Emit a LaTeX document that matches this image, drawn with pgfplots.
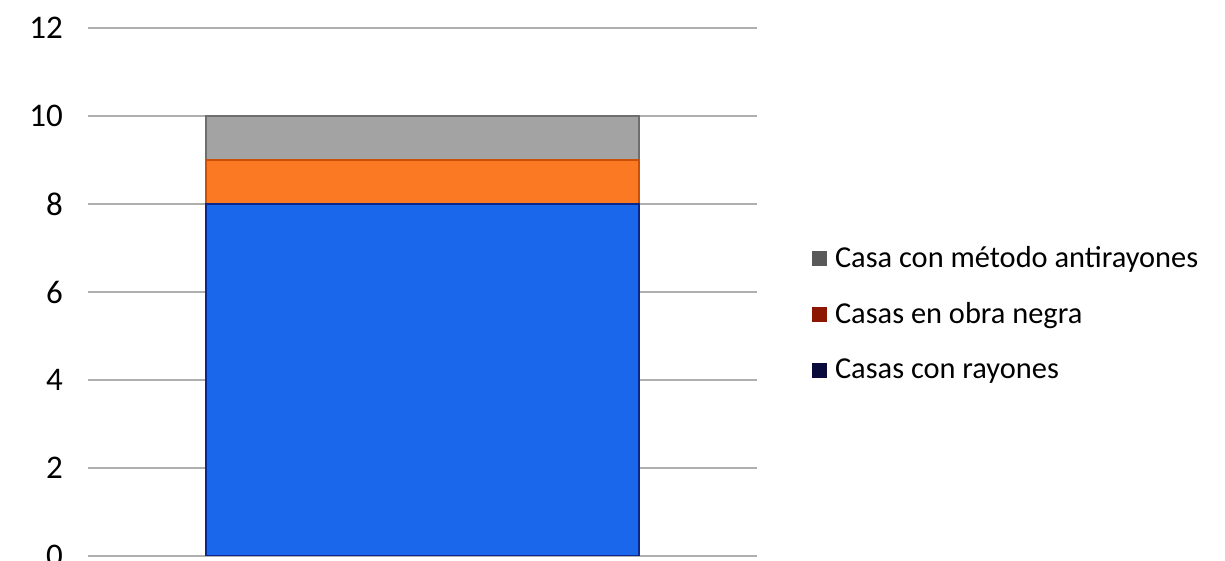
\documentclass[border=0pt]{standalone}
\usepackage{pgfplots}
\pgfplotsset{compat=1.18}
\usepackage{fontspec}
\setmainfont{Carlito}
\definecolor{barblue}{RGB}{27,103,235}
\definecolor{barorange}{RGB}{251,121,34}
\definecolor{bargray}{RGB}{163,163,163}
\definecolor{edgeblue}{RGB}{10,40,140}
\definecolor{edgeorange}{RGB}{200,80,10}
\definecolor{edgegray}{RGB}{110,110,110}
\definecolor{leggray}{RGB}{89,89,89}
\definecolor{legred}{RGB}{140,22,0}
\definecolor{legnavy}{RGB}{10,10,60}
\definecolor{gridc}{RGB}{175,175,175}
\begin{document}
\begin{tikzpicture}
\begin{axis}[
  name=ax, at={(0,0)}, anchor=south west,
  scale only axis, width=334.5pt, height=264pt,
  xmin=-1, xmax=1, ymin=0, ymax=12,
  ytick={0,2,...,12}, xtick=\empty,
  axis line style={draw=none},
  ymajorgrids, grid style={gridc, line width=1.3pt},
  major tick length=0pt,
  /pgf/number format/assume math mode=true,
  yticklabel style={font=\fontsize{16.5}{19}\selectfont, xshift=-9pt},
  ybar stacked, bar width=1.2945,
  legend style={draw=none, fill=none, at={(1.073,0.458)}, anchor=west,
    font=\fontsize{15.2}{18}\selectfont, row sep=12pt,
    /tikz/every even column/.append style={column sep=0pt}},
  legend cell align=left,
  legend image code/.code={\fill[#1] (0pt,-3.5pt) rectangle (7pt,3.5pt);},
]
\addplot[fill=barblue, draw=edgeblue, line width=0.8pt, forget plot] coordinates {(0,8)};
\addplot[fill=barorange, draw=edgeorange, line width=0.8pt, forget plot] coordinates {(0,1)};
\addplot[fill=bargray, draw=edgegray, line width=0.8pt, forget plot] coordinates {(0,1)};
\addlegendimage{leggray}
\addlegendentry{\hspace{2pt}Casa con método antirayones}
\addlegendimage{legred}
\addlegendentry{\hspace{2pt}Casas en obra negra}
\addlegendimage{legnavy}
\addlegendentry{\hspace{2pt}Casas con rayones}
\end{axis}
\pgfresetboundingbox
\path[use as bounding box] ([xshift=-44pt,yshift=-2.5pt]ax.south west) rectangle ([xshift=568.5pt,yshift=278pt]ax.south west);
\end{tikzpicture}
\end{document}
